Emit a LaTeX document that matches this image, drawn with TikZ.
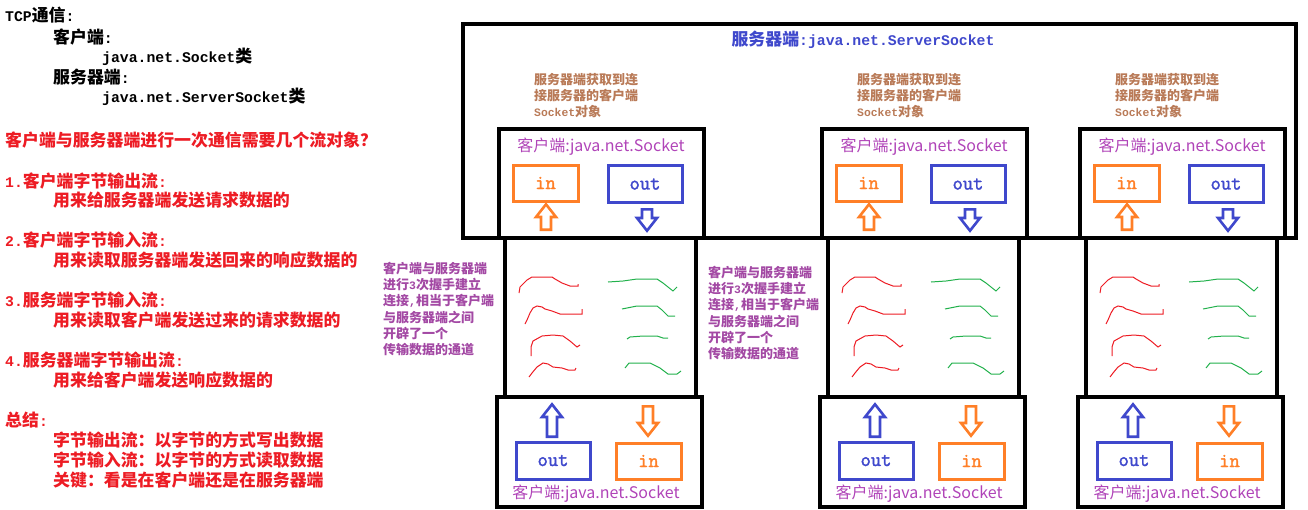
\documentclass[tikz,border=0pt]{standalone}
\usepackage{fontspec}
\setmainfont{Noto Sans CJK SC}
\newfontfamily\ascfont{Liberation Mono}[Scale=0.875]
\newfontfamily\portfont{Latin Modern Mono}[FakeBold=1.8]
\usepackage{tikz}
\newcommand\asctext[1]{{\ascfont #1}}
\definecolor{pblue}{HTML}{3F48CC}
\definecolor{porange}{HTML}{FF7F27}
\definecolor{pred}{HTML}{ED1C24}
\definecolor{pgreen}{HTML}{22B14C}
\definecolor{ppurple}{HTML}{A349A4}
\definecolor{pbrown}{HTML}{B97A57}
\definecolor{sockpurple}{HTML}{B044B8}
\tikzset{
  frame/.style={draw, line width=4pt, inner sep=0pt},
  port/.style={draw, line width=3pt, inner sep=0pt, font=\portfont\fontsize{20}{20}\selectfont},
  inport/.style={port, color=porange, minimum width=65pt, minimum height=36pt},
  outport/.style={port, color=pblue, minimum width=74pt, minimum height=37pt},
  sock/.style={font=\fontsize{16}{17}\selectfont, text=sockpurple, inner sep=0pt},
  note/.style={font=\bfseries\fontsize{13}{16.3}\selectfont, align=left, inner sep=0pt, anchor=west},
  txt/.style={font=\bfseries\fontsize{16.9}{20}\selectfont, inner sep=0pt, anchor=west},
  redtxt/.style={txt, text=pred},
  pics/hollowarr/.style={code={
    \draw[line width=2.6pt] (0,{-#1/2+1.3}) -- (10,{-#1/2+14}) -- (5,{-#1/2+14}) -- (5,{#1/2-1.3})
      -- (-5,{#1/2-1.3}) -- (-5,{-#1/2+14}) -- (-10,{-#1/2+14}) -- cycle;}},
}

\begin{document}
\begin{tikzpicture}[x=1pt, y=-1pt]
\useasboundingbox (0,0) rectangle (1308,509);
\node[txt] (tcp) at (5,15) {\asctext{TCP}通信\asctext{:}};
\node[txt] (cli) at (53,37) {客户端\asctext{:}};
\node[txt] (clicls) at (102,57) {\asctext{java.net.Socket}类};
\node[txt] (srv) at (53,77) {服务器端\asctext{:}};
\node[txt] (srvcls) at (102,97) {\asctext{java.net.ServerSocket}类};
\node[redtxt] (ques) at (5,140) {客户端与服务器端进行一次通信需要几个流对象？};
\node[redtxt] (q1) at (5,181) {\asctext{1.}客户端字节输出流\asctext{:}};
\node[redtxt] (q1d) at (53,200) {用来给服务器端发送请求数据的};
\node[redtxt] (q2) at (5,240) {\asctext{2.}客户端字节输入流\asctext{:}};
\node[redtxt] (q2d) at (53,260) {用来读取服务器端发送回来的响应数据的};
\node[redtxt] (q3) at (5,300) {\asctext{3.}服务端字节输入流\asctext{:}};
\node[redtxt] (q3d) at (53,320) {用来读取客户端发送过来的请求数据的};
\node[redtxt] (q4) at (5,360) {\asctext{4.}服务器端字节输出流\asctext{:}};
\node[redtxt] (q4d) at (53,380) {用来给客户端发送响应数据的};
\node[redtxt] (sum) at (5,420) {总结\asctext{:}};
\node[redtxt] (sum1) at (53,440) {字节输出流：以字节的方式写出数据};
\node[redtxt] (sum2) at (53,460) {字节输入流：以字节的方式读取数据};
\node[redtxt] (sum3) at (53,480) {关键：看是在客户端还是在服务器端};

\node[frame, minimum width=833pt, minimum height=214pt] (srvbox) at (879.5,131) {};
\node[txt, anchor=center, text=pblue] (srvtitle) at (863,40) {服务器端\asctext{:java.net.ServerSocket}};

\foreach \x [count=\i] in {499,822,1080} {
  \node[frame, minimum width=205pt, minimum height=109pt] (top\i) at ({\x+102.5},183.5) {};
  \node[frame, minimum width=191pt, minimum height=159pt] (mid\i) at ({\x+101.5},317.5) {};
  \node[frame, minimum width=205pt, minimum height=110pt] (bot\i) at ({\x+100.5},452) {};
  \node[note, text=pbrown] (get\i) at ({\x+35},95.5) {服务器端获取到连\\接服务器的客户端\\\asctext{Socket}对象};
  \node[sock] (toplbl\i) at ({\x+102},147) {客户端:java.net.Socket};
  \node[inport] (tin\i) at ({\x+46.5},183) {in};
  \node[outport] (tout\i) at ({\x+146},184) {out};
  \pic[color=porange] at ({\x+47},217) {hollowarr=28};
  \pic[color=pblue, rotate=180] at ({\x+148},220) {hollowarr=24};
  \node[outport] (bout\i) at ({\x+54},460.5) {out};
  \node[inport] (bin\i) at ({\x+149.5},461) {in};
  \pic[color=pblue] at ({\x+53},420.5) {hollowarr=35};
  \pic[color=porange, rotate=180] at ({\x+149},421) {hollowarr=32};
  \node[sock] (botlbl\i) at ({\x+97},494) {客户端:java.net.Socket};
  \begin{scope}[shift={({\x+6},240)}, line width=1pt]
    \draw[pred] (14,53) -- (15,47) -- (22,40) -- (27,37) -- (38,37) -- (47,37) -- (50,39) -- (57,43) -- (65,46) -- (73,46) -- (73,44);
    \draw[pred] (20,84) -- (22,80) -- (25,73) -- (28,68) -- (32,66) -- (37,67) -- (40,69) -- (47,71) -- (55,74) -- (77,74) -- (77,69);
    \draw[pred] (26,116) -- (26,107) -- (28,101) -- (37,96) -- (48,95) -- (58,96) -- (65,101) -- (72,107) -- (75,105);
    \draw[pred] (24,137) -- (27,133) -- (32,127) -- (38,123) -- (43,124) -- (48,127) -- (57,128) -- (63,130) -- (70,130) -- (71,128);
    \draw[pgreen] (103,42) -- (118,41) -- (132,39) -- (152,39) -- (158,43) -- (168,51) -- (172,47);
    \draw[pgreen] (117,69) -- (132,66) -- (152,66) -- (157,70) -- (163,76) -- (170,76);
    \draw[pgreen] (122,99) -- (125,97) -- (138,96) -- (152,96) -- (158,98) -- (163,98);
    \draw[pgreen] (120,128) -- (124,123) -- (145,123) -- (155,128) -- (163,134) -- (172,134) -- (176,131);
  \end{scope}
}

\node[note, text=ppurple] (shake1) at (383,309) {客户端与服务器端\\进行\asctext{3}次握手建立\\连接\asctext{,}相当于客户端\\与服务器端之间\\开辟了一个\\传输数据的通道};
\node[note, text=ppurple] (shake2) at (708,313) {客户端与服务器端\\进行\asctext{3}次握手建立\\连接\asctext{,}相当于客户端\\与服务器端之间\\开辟了一个\\传输数据的通道};
\end{tikzpicture}
\end{document}
